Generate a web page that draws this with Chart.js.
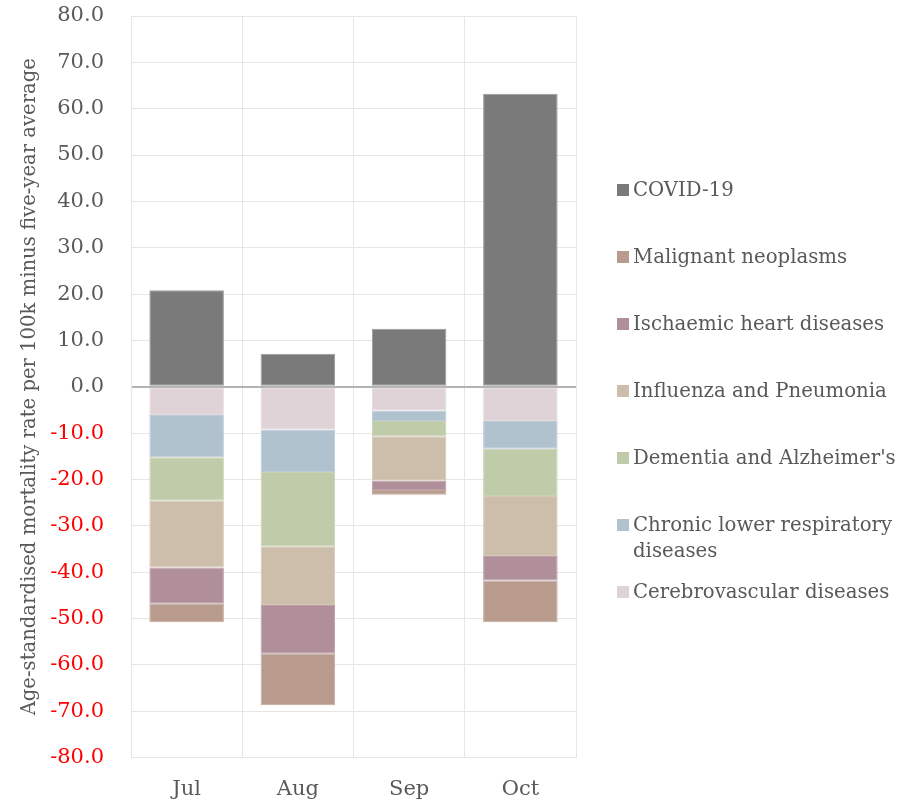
<!DOCTYPE html>
<html lang="en">
<head>
    <meta charset="UTF-8">
    <title>Excess mortality by cause</title>
    <script src="https://cdn.jsdelivr.net/npm/chart.js"></script>
    <style>
        body { margin: 0; background: #fff; overflow: hidden; }
        .wrap { position: relative; width: 904px; height: 803px; }
        #legend {
            position: absolute; left: 0; top: 0;
            font-family: "DejaVu Serif", serif; font-size: 19.7px; color: #595959;
        }
        .item { position: absolute; left: 617px; width: 284px; line-height: 26px; }
        .box { position: absolute; left: 0; top: 7px; width: 12px; height: 12px; }
        .txt { margin-left: 16px; }
    </style>
</head>
<body>
<div class="wrap">
    <canvas id="chart" width="904" height="803"></canvas>
    <div id="legend"></div>
</div>
<script>
    // months on the x axis
    var months = ['Jul', 'Aug', 'Sep', 'Oct'];

    // values (rate per 100k minus five-year average)
    var covid          = [20.8, 7.1, 12.5, 63.2];
    var cerebro        = [-6.1, -9.3, -5.2, -7.4];
    var chronicResp    = [-9.1, -9.1, -2.2, -6.0];
    var dementia       = [-9.4, -16.0, -3.3, -10.2];
    var influenza      = [-14.4, -12.7, -9.6, -12.9];
    var ischaemic      = [-7.8, -10.5, -2.0, -5.3];
    var malignant      = [-4.0, -11.1, -1.0, -9.0];

    var yTicks = { min: -80, max: 80, step: 10 };

    // stacking order (nearest zero first for the negative part)
    var datasets = [
        { label: 'COVID-19', data: covid, backgroundColor: '#7a7a7a', borderColor: '#9a9a9a' },
        { label: 'Cerebrovascular diseases', data: cerebro, backgroundColor: '#dfd3d8', borderColor: '#e5dbdf' },
        { label: 'Chronic lower respiratory diseases', data: chronicResp, backgroundColor: '#b1c2cf', borderColor: '#bccbd6' },
        { label: "Dementia and Alzheimer's", data: dementia, backgroundColor: '#c0cca9', borderColor: '#c9d3b5' },
        { label: 'Influenza and Pneumonia', data: influenza, backgroundColor: '#cdbeab', borderColor: '#d5c8b7' },
        { label: 'Ischaemic heart diseases', data: ischaemic, backgroundColor: '#b08f9a', borderColor: '#bb9ea8' },
        { label: 'Malignant neoplasms', data: malignant, backgroundColor: '#b89b8d', borderColor: '#c3a99d' }
    ];
    datasets.forEach(function (d) {
        d.borderWidth = 1;
        d.borderSkipped = false;
        d.barPercentage = 0.67;
        d.categoryPercentage = 1.0;
    });

    // legend order as shown on the right
    var legendOrder = [0, 6, 5, 4, 3, 2, 1];

    var grey = '#595959';
    var ctx = document.getElementById('chart').getContext('2d');
    var chart = new Chart(ctx, {
        type: 'bar',
        data: { labels: months, datasets: datasets },
        options: {
            responsive: false,
            animation: false,
            layout: { padding: { top: 0, right: 328, bottom: 0, left: 0 } },
            plugins: { legend: { display: false }, tooltip: { enabled: false } },
            scales: {
                x: {
                    stacked: true,
                    grid: { color: '#e6e6e6', drawTicks: false, offset: true },
                    border: { color: '#e6e6e6' },
                    ticks: { color: grey, padding: 19, font: { family: 'DejaVu Serif', size: 21 } },
                    afterFit: function (s) { s.height = 45.5; }
                },
                y: {
                    stacked: true,
                    min: yTicks.min,
                    max: yTicks.max,
                    grid: {
                        drawTicks: false,
                        color: function (c) { return c.tick && c.tick.value === 0 ? '#b3b3b3' : '#e6e6e6'; },
                        lineWidth: function (c) { return c.tick && c.tick.value === 0 ? 2 : 1; }
                    },
                    border: { color: '#e6e6e6' },
                    ticks: {
                        stepSize: yTicks.step,
                        padding: 27,
                        font: { family: 'DejaVu Serif', size: 21 },
                        color: function (c) { return c.tick.value < 0 ? '#ff0000' : grey; },
                        callback: function (v) { return v.toFixed(1); }
                    },
                    title: {
                        display: true,
                        text: 'Age-standardised mortality rate per 100k minus five-year average',
                        color: grey,
                        font: { family: 'DejaVu Serif', size: 19.6 },
                        padding: { top: 18, bottom: 0 }
                    },
                    afterFit: function (s) {
                        s.width = 131;
                        // tick padding would otherwise push the plot top down
                        s.paddingTop = 16;
                        s.paddingBottom = 0;
                    }
                }
            }
        }
    });

    // html legend built from the datasets
    var legend = document.getElementById('legend');
    legendOrder.forEach(function (idx, i) {
        var d = datasets[idx];
        var item = document.createElement('div');
        item.className = 'item';
        item.style.top = (177 + i * 67) + 'px';
        var box = document.createElement('span');
        box.className = 'box';
        box.style.background = d.backgroundColor;
        var txt = document.createElement('div');
        txt.className = 'txt';
        txt.textContent = d.label;
        item.appendChild(box);
        item.appendChild(txt);
        legend.appendChild(item);
    });
</script>
</body>
</html>
